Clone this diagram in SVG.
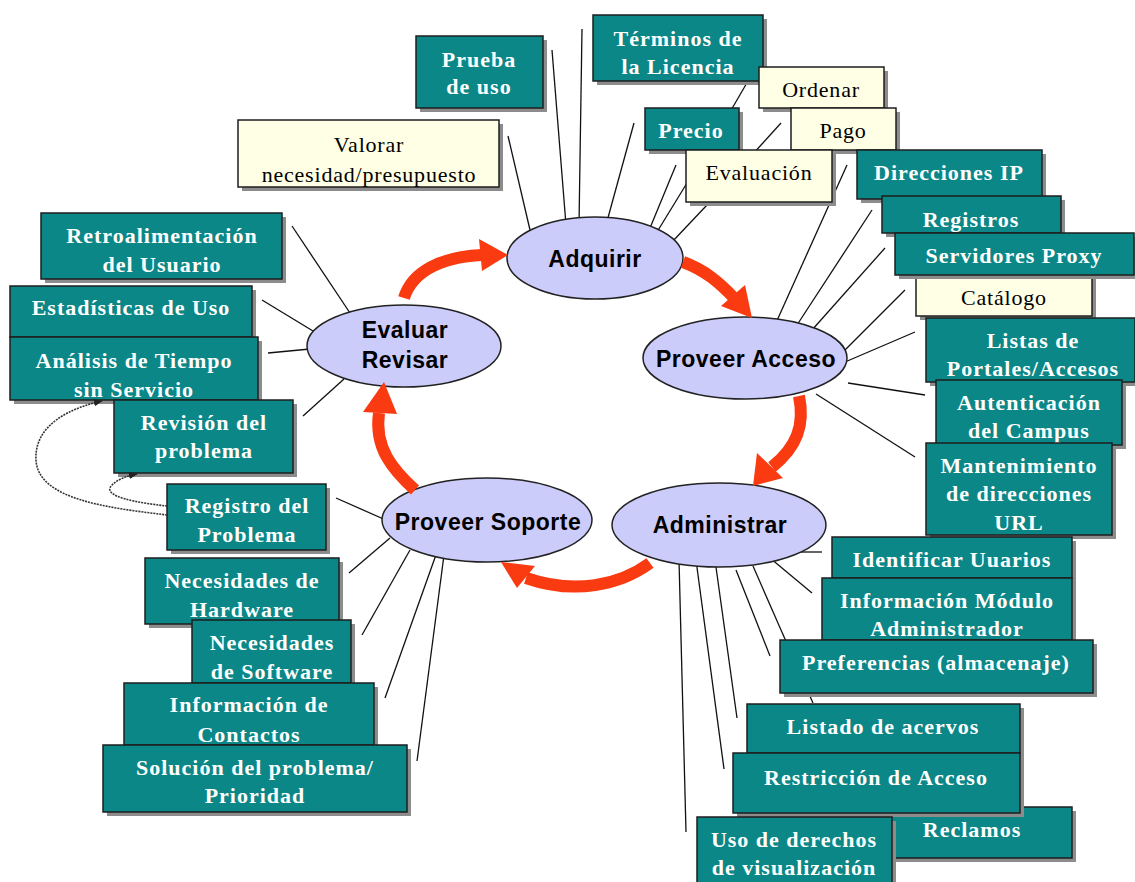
<svg xmlns="http://www.w3.org/2000/svg" width="1135" height="882" viewBox="0 0 1135 882">
  <style>
    .sh { fill: #8c8c8c; }
    .tb { fill: #0b8787; stroke: #1e1e1e; stroke-width: 1.5; }
    .cb { fill: #ffffe6; stroke: #1e1e1e; stroke-width: 1.5; }
    .tt { fill: #ffffff; font-family: "Liberation Serif", "Times New Roman", serif; font-weight: bold; font-size: 22px; letter-spacing: 1px; text-anchor: middle; }
    .ct { fill: #000000; font-family: "Liberation Serif", "Times New Roman", serif; font-size: 22px; letter-spacing: 0.8px; text-anchor: middle; }
    .el { fill: #ccccfa; stroke: #222222; stroke-width: 1.5; }
    .et { fill: #000000; font-family: "Liberation Sans", Arial, sans-serif; font-weight: bold; font-size: 23px; letter-spacing: 0.5px; text-anchor: middle; }
    .ln { stroke: #111111; stroke-width: 1.3; fill: none; }
    .ar { stroke: #fa3a10; stroke-width: 12; fill: none; }
    .ah { fill: #fa3a10; }
    .dt { stroke: #333333; stroke-width: 1.6; stroke-dasharray: 2 1; fill: none; }
  </style>
  <defs>
    <marker id="dot-head" viewBox="0 0 10 10" refX="9" refY="5" markerWidth="9" markerHeight="9" markerUnits="userSpaceOnUse" orient="auto">
      <path d="M0,1 L10,5 L0,9 Z" fill="#222222"/>
    </marker>
  </defs>

  <rect width="1135" height="882" fill="#ffffff"/>

  <!-- thin spokes from each phase to its topics -->
  <g id="spokes">
    <line class="ln" x1="508" y1="136" x2="530" y2="230"/>
    <line class="ln" x1="552" y1="50" x2="566" y2="225"/>
    <line class="ln" x1="582" y1="29" x2="579" y2="225"/>
    <line class="ln" x1="634" y1="123" x2="606" y2="225"/>
    <line class="ln" x1="676" y1="165" x2="650" y2="228"/>
    <line class="ln" x1="687" y1="183" x2="657" y2="232"/>
    <line class="ln" x1="707" y1="205" x2="672" y2="242"/>
    <line class="ln" x1="748" y1="81" x2="730" y2="112"/>
    <line class="ln" x1="781" y1="123" x2="752" y2="155"/>

    <line class="ln" x1="847" y1="165" x2="775" y2="325"/>
    <line class="ln" x1="872" y1="210" x2="797" y2="325"/>
    <line class="ln" x1="885" y1="248" x2="812" y2="330"/>
    <line class="ln" x1="905" y1="290" x2="840" y2="355"/>
    <line class="ln" x1="915" y1="332" x2="845" y2="362"/>
    <line class="ln" x1="925" y1="395" x2="848" y2="383"/>
    <line class="ln" x1="915" y1="457" x2="816" y2="394"/>

    <line class="ln" x1="679" y1="560" x2="686" y2="832"/>
    <line class="ln" x1="696" y1="560" x2="724" y2="769"/>
    <line class="ln" x1="715" y1="560" x2="737" y2="718"/>
    <line class="ln" x1="736" y1="570" x2="770" y2="656"/>
    <line class="ln" x1="753" y1="566" x2="813" y2="703"/>
    <line class="ln" x1="770" y1="558" x2="812" y2="593"/>
    <line class="ln" x1="800" y1="552" x2="822" y2="552"/>

    <line class="ln" x1="336" y1="498" x2="388" y2="521"/>
    <line class="ln" x1="390" y1="538" x2="349" y2="573"/>
    <line class="ln" x1="410" y1="550" x2="362" y2="635"/>
    <line class="ln" x1="437" y1="552" x2="385" y2="698"/>
    <line class="ln" x1="444" y1="555" x2="417" y2="761"/>

    <line class="ln" x1="292" y1="226" x2="350" y2="313"/>
    <line class="ln" x1="262" y1="300" x2="313" y2="331"/>
    <line class="ln" x1="268" y1="353" x2="310" y2="349"/>
    <line class="ln" x1="303" y1="416" x2="344" y2="379"/>
  </g>

  <!-- Adquirir topics -->
  <g id="n-prueba"><rect class="sh" x="420" y="40" width="127" height="72"/><rect class="tb" x="416" y="36" width="127" height="72"/><text class="tt"><tspan x="479" y="67">Prueba</tspan><tspan x="479" y="94">de uso</tspan></text></g>
  <g id="n-terminos"><rect class="sh" x="597" y="19" width="170" height="66"/><rect class="tb" x="593" y="15" width="170" height="66"/><text class="tt"><tspan x="678" y="46">Términos de</tspan><tspan x="678" y="74">la Licencia</tspan></text></g>
  <g id="n-valorar"><rect class="sh" x="242" y="124" width="261" height="67"/><rect class="cb" x="238" y="120" width="261" height="67"/><text class="ct"><tspan x="369" y="152">Valorar</tspan><tspan x="369" y="182">necesidad/presupuesto</tspan></text></g>
  <g id="n-ordenar"><rect class="sh" x="763" y="71" width="125" height="41"/><rect class="cb" x="759" y="67" width="125" height="41"/><text class="ct" x="821" y="97">Ordenar</text></g>
  <g id="n-precio"><rect class="sh" x="649" y="112" width="94" height="42"/><rect class="tb" x="645" y="108" width="94" height="42"/><text class="tt" x="691" y="138">Precio</text></g>
  <g id="n-pago"><rect class="sh" x="795" y="112" width="105" height="42"/><rect class="cb" x="791" y="108" width="105" height="42"/><text class="ct" x="843" y="138">Pago</text></g>
  <g id="n-evaluacion"><rect class="sh" x="690" y="154" width="146" height="52"/><rect class="cb" x="686" y="150" width="146" height="52"/><text class="ct" x="759" y="180">Evaluación</text></g>

  <!-- Proveer Acceso topics -->
  <g id="n-direcciones"><rect class="sh" x="861" y="154" width="185" height="49"/><rect class="tb" x="857" y="150" width="185" height="49"/><text class="tt" x="949" y="180">Direcciones IP</text></g>
  <g id="n-registros"><rect class="sh" x="886" y="200" width="179" height="37"/><rect class="tb" x="882" y="196" width="179" height="37"/><text class="tt" x="971" y="227">Registros</text></g>
  <g id="n-catalogo"><rect class="sh" x="920" y="279" width="176" height="41"/><rect class="cb" x="916" y="275" width="176" height="41"/><text class="ct" x="1004" y="305">Catálogo</text></g>
  <g id="n-servidores"><rect class="sh" x="899" y="237" width="239" height="42"/><rect class="tb" x="895" y="233" width="239" height="42"/><text class="tt" x="1014" y="263">Servidores Proxy</text></g>
  <g id="n-listas"><rect class="sh" x="930" y="322" width="209" height="64"/><rect class="tb" x="926" y="318" width="209" height="64"/><text class="tt"><tspan x="1033" y="348">Listas de</tspan><tspan x="1033" y="376">Portales/Accesos</tspan></text></g>
  <g id="n-autenticacion"><rect class="sh" x="940" y="384" width="186" height="65"/><rect class="tb" x="936" y="380" width="186" height="65"/><text class="tt"><tspan x="1029" y="410">Autenticación</tspan><tspan x="1029" y="438">del Campus</tspan></text></g>
  <g id="n-mantenimiento"><rect class="sh" x="930" y="447" width="186" height="92"/><rect class="tb" x="926" y="443" width="186" height="92"/><text class="tt"><tspan x="1019" y="473">Mantenimiento</tspan><tspan x="1019" y="501">de direcciones</tspan><tspan x="1019" y="530">URL</tspan></text></g>

  <!-- Administrar topics -->
  <g id="n-identificar"><rect class="sh" x="836" y="541" width="240" height="41"/><rect class="tb" x="832" y="537" width="240" height="41"/><text class="tt" x="952" y="567">Identificar Uuarios</text></g>
  <g id="n-modulo"><rect class="sh" x="826" y="582" width="250" height="62"/><rect class="tb" x="822" y="578" width="250" height="62"/><text class="tt"><tspan x="947" y="608">Información Módulo</tspan><tspan x="947" y="636">Administrador</tspan></text></g>
  <g id="n-preferencias"><rect class="sh" x="784" y="644" width="313" height="53"/><rect class="tb" x="780" y="640" width="313" height="53"/><text class="tt" x="936" y="670">Preferencias (almacenaje)</text></g>
  <g id="n-listado"><rect class="sh" x="751" y="708" width="273" height="49"/><rect class="tb" x="747" y="704" width="273" height="49"/><text class="tt" x="883" y="734">Listado de acervos</text></g>
  <g id="n-reclamos"><rect class="sh" x="894" y="811" width="182" height="51"/><rect class="tb" x="890" y="807" width="182" height="51"/><text class="tt" x="972" y="837">Reclamos</text></g>
  <g id="n-restriccion"><rect class="sh" x="737" y="757" width="287" height="60"/><rect class="tb" x="733" y="753" width="287" height="60"/><text class="tt" x="876" y="785">Restricción de Acceso</text></g>
  <g id="n-uso"><rect class="sh" x="701" y="821" width="195" height="70"/><rect class="tb" x="697" y="817" width="195" height="70"/><text class="tt"><tspan x="794" y="847">Uso de derechos</tspan><tspan x="794" y="875">de visualización</tspan></text></g>

  <!-- Evaluar / Revisar topics -->
  <g id="n-retro"><rect class="sh" x="45" y="217" width="241" height="66"/><rect class="tb" x="41" y="213" width="241" height="66"/><text class="tt"><tspan x="162" y="243">Retroalimentación</tspan><tspan x="162" y="272">del Usuario</tspan></text></g>
  <g id="n-estadisticas"><rect class="sh" x="14" y="290" width="242" height="51"/><rect class="tb" x="10" y="286" width="242" height="51"/><text class="tt" x="131" y="315">Estadísticas de Uso</text></g>
  <g id="n-analisis"><rect class="sh" x="14" y="341" width="248" height="63"/><rect class="tb" x="10" y="337" width="248" height="63"/><text class="tt"><tspan x="134" y="368">Análisis de Tiempo</tspan><tspan x="134" y="397">sin Servicio</tspan></text></g>
  <g id="n-revision"><rect class="sh" x="118" y="404" width="179" height="73"/><rect class="tb" x="114" y="400" width="179" height="73"/><text class="tt"><tspan x="204" y="430">Revisión del</tspan><tspan x="204" y="458">problema</tspan></text></g>

  <!-- Proveer Soporte topics -->
  <g id="n-registro"><rect class="sh" x="171" y="488" width="159" height="66"/><rect class="tb" x="167" y="484" width="159" height="66"/><text class="tt"><tspan x="247" y="513">Registro del</tspan><tspan x="247" y="542">Problema</tspan></text></g>
  <g id="n-hardware"><rect class="sh" x="149" y="562" width="194" height="66"/><rect class="tb" x="145" y="558" width="194" height="66"/><text class="tt"><tspan x="242" y="588">Necesidades de</tspan><tspan x="242" y="617">Hardware</tspan></text></g>
  <g id="n-software"><rect class="sh" x="196" y="624" width="159" height="63"/><rect class="tb" x="192" y="620" width="159" height="63"/><text class="tt"><tspan x="272" y="650">Necesidades</tspan><tspan x="272" y="679">de Software</tspan></text></g>
  <g id="n-contactos"><rect class="sh" x="128" y="687" width="250" height="62"/><rect class="tb" x="124" y="683" width="250" height="62"/><text class="tt"><tspan x="249" y="712">Información de</tspan><tspan x="249" y="742">Contactos</tspan></text></g>
  <g id="n-solucion"><rect class="sh" x="107" y="749" width="304" height="67"/><rect class="tb" x="103" y="745" width="304" height="67"/><text class="tt"><tspan x="255" y="775">Solución del problema/</tspan><tspan x="255" y="803">Prioridad</tspan></text></g>

  <!-- the five phases of the cycle -->
  <g id="p-adquirir"><ellipse class="el" cx="595" cy="258" rx="88" ry="41"/><text class="et" x="595" y="267">Adquirir</text></g>
  <g id="p-acceso"><ellipse class="el" cx="745" cy="358" rx="102" ry="41"/><text class="et" x="746" y="367">Proveer Acceso</text></g>
  <g id="p-administrar"><ellipse class="el" cx="719" cy="525" rx="107" ry="42"/><text class="et" x="720" y="533">Administrar</text></g>
  <g id="p-soporte"><ellipse class="el" cx="487" cy="520" rx="105" ry="42"/><text class="et" x="488" y="530">Proveer Soporte</text></g>
  <g id="p-evaluar"><ellipse class="el" cx="404" cy="346" rx="97" ry="41"/><text class="et"><tspan x="405" y="338">Evaluar</tspan><tspan x="405" y="368">Revisar</tspan></text></g>

  <!-- cycle arrows between phases -->
  <g id="cycle-arrows">
    <path class="ar" d="M404,298 C412,272 440,257 482,255"/>
    <polygon class="ah" points="508,255 479,239 482,271"/>
    <path class="ar" d="M683,262 C705,270 720,283 735,299"/>
    <polygon class="ah" points="752,318 721,306 745,285"/>
    <path class="ar" d="M799,396 C805,425 797,447 772,467"/>
    <polygon class="ah" points="753,486 757,453 783,478"/>
    <path class="ar" d="M650,563 C620,585 575,595 526,578"/>
    <polygon class="ah" points="501,562 517,588 535,566"/>
    <path class="ar" d="M415,490 C393,470 374,448 379,413"/>
    <polygon class="ah" points="384,382 363,412 397,414"/>
  </g>

  <!-- feedback from problem log to review boxes -->
  <g id="feedback-links">
    <path class="dt" d="M167,515 C110,508 38,500 36,460 C34,425 70,408 102,401" marker-end="url(#dot-head)"/>
    <path class="dt" d="M167,506 C140,503 100,497 112,485 C118,479 127,476 137,474" marker-end="url(#dot-head)"/>
  </g>
</svg>
